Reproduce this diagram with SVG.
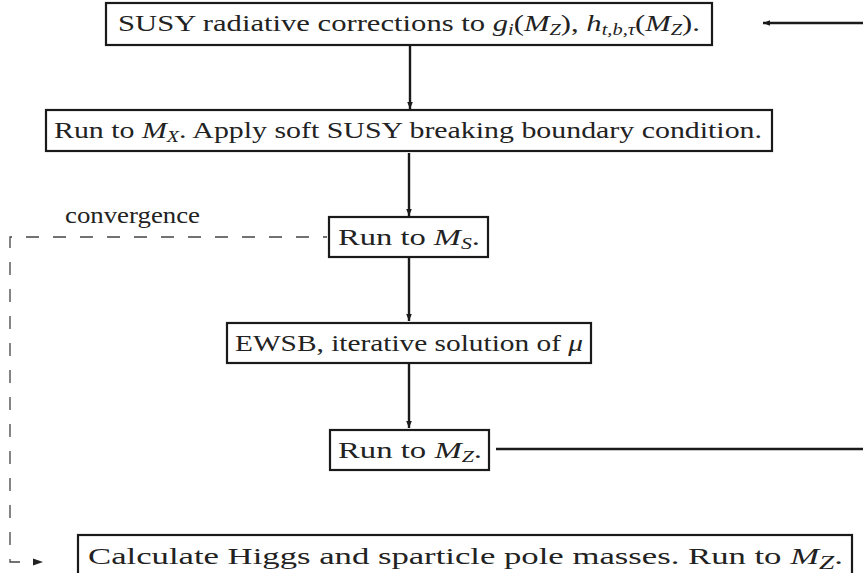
<svg xmlns="http://www.w3.org/2000/svg" width="863" height="573" viewBox="0 0 863 573">
<defs>
<style>
.box{fill:#fff;stroke:#1a1a1a;stroke-width:2.2}
.t{font-family:"Liberation Serif","DejaVu Serif",serif;font-size:24px;fill:#222}
.m{font-style:italic}
.s{font-size:16px}
.conn{stroke:#1a1a1a;stroke-width:2.4;fill:none}
.dash{stroke:#444;stroke-width:1.3;fill:none;stroke-dasharray:13 14}
</style>
<marker id="ah" viewBox="0 0 10 10" refX="10" refY="5" markerWidth="7" markerHeight="7" markerUnits="userSpaceOnUse" orient="auto"><path d="M0,1 L10,5 L0,9 z" fill="#1a1a1a"/></marker>
</defs>
<g id="connectors">
<line class="conn" x1="863" y1="23" x2="763" y2="23" marker-end="url(#ah)"/>
<line class="conn" x1="410" y1="46" x2="410" y2="109" marker-end="url(#ah)"/>
<line class="conn" x1="409" y1="153" x2="409" y2="216" marker-end="url(#ah)"/>
<line class="conn" x1="409" y1="258" x2="409" y2="321" marker-end="url(#ah)"/>
<line class="conn" x1="409" y1="364" x2="409" y2="428" marker-end="url(#ah)"/>
<line class="conn" x1="496" y1="449" x2="863" y2="449"/>
<path class="dash" d="M20,562 H10 V237 H327"/>
<path d="M33,558.5 L43,562 L33,565.5 z" fill="#222"/>
<text class="t" x="65" y="223" font-size="22" textLength="135" lengthAdjust="spacingAndGlyphs">convergence</text>
</g>
<g id="n1">
<rect class="box" x="106" y="3" width="606" height="42"/>
<text class="t" x="118" y="31" textLength="582" lengthAdjust="spacingAndGlyphs">SUSY radiative corrections to <tspan class="m">g</tspan><tspan class="s m" dy="4">i</tspan><tspan dy="-4">(</tspan><tspan class="m">M</tspan><tspan class="s m" dy="4">Z</tspan><tspan dy="-4">), </tspan><tspan class="m">h</tspan><tspan class="s m" dy="4">t,b,τ</tspan><tspan dy="-4">(</tspan><tspan class="m">M</tspan><tspan class="s m" dy="4">Z</tspan><tspan dy="-4">).</tspan></text>
</g>
<g id="n2">
<rect class="box" x="46" y="110" width="726" height="41"/>
<text class="t" x="54" y="138" textLength="708" lengthAdjust="spacingAndGlyphs">Run to <tspan class="m">M</tspan><tspan class="s m" dy="4">X</tspan><tspan dy="-4">. Apply soft SUSY breaking boundary condition.</tspan></text>
</g>
<g id="n3">
<rect class="box" x="329" y="217" width="159" height="40"/>
<text class="t" x="338" y="245" textLength="142" lengthAdjust="spacingAndGlyphs">Run to <tspan class="m">M</tspan><tspan class="s m" dy="4">S</tspan><tspan dy="-4">.</tspan></text>
</g>
<g id="n4">
<rect class="box" x="227" y="323" width="364" height="40"/>
<text class="t" x="235" y="351" textLength="348" lengthAdjust="spacingAndGlyphs">EWSB, iterative solution of <tspan class="m">μ</tspan></text>
</g>
<g id="n5">
<rect class="box" x="330" y="430" width="159" height="40"/>
<text class="t" x="338" y="458" textLength="144" lengthAdjust="spacingAndGlyphs">Run to <tspan class="m">M</tspan><tspan class="s m" dy="4">Z</tspan><tspan dy="-4">.</tspan></text>
</g>
<g id="n6">
<rect class="box" x="78" y="535" width="774" height="44"/>
<text class="t" x="88" y="564" font-size="28" textLength="755" lengthAdjust="spacingAndGlyphs">Calculate Higgs and sparticle pole masses. Run to <tspan class="m">M</tspan><tspan class="m" font-size="19" dy="5">Z</tspan><tspan dy="-5">.</tspan></text>
</g>
</svg>
